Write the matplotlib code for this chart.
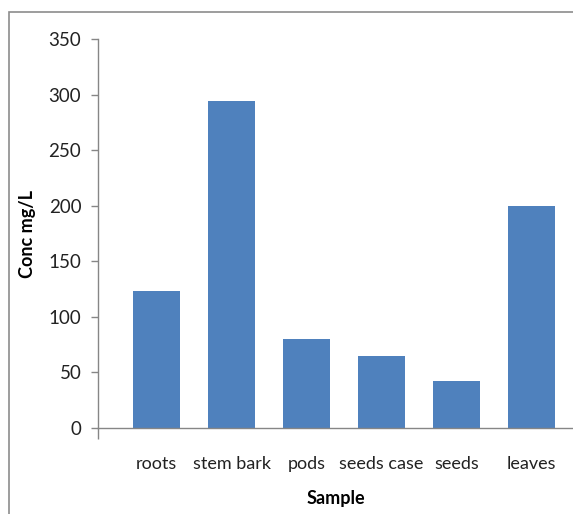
import numpy as np
import matplotlib.pyplot as plt
from matplotlib.patches import Rectangle

samples = ["roots", "stem bark", "pods", "seeds case", "seeds", "leaves"]
conc = [123, 294, 80, 65, 42, 200]
yticks = [0, 50, 100, 150, 200, 250, 300, 350]

bar_color = "#4F81BD"
axis_color = "#868686"
plt.rcParams["font.family"] = ["Lato", "DejaVu Sans"]

fig = plt.figure(figsize=(5.73, 5.14), dpi=100)
W, H = 573, 514
ax = fig.add_axes([98 / W, 1 - 428 / H, (573 - 98) / W, (428 - 39) / H])

x = np.arange(len(samples))
ax.bar(x, conc, width=0.62, color=bar_color, zorder=2)

ax.set_xlim(-0.78, 5.55)
ax.set_ylim(0, 350)
ax.set_yticks(yticks)
ax.set_yticklabels([str(v) for v in yticks], fontsize=13.5, color="#222222")
ax.tick_params(axis="y", direction="out", length=5, width=1, color=axis_color, pad=7)

ax.set_xticks(x)
ax.set_xticklabels(samples, fontsize=13, color="#222222")
ax.tick_params(axis="x", length=0, pad=20)
ax.set_xticks([-0.78], minor=True)
ax.tick_params(axis="x", which="minor", direction="out", length=8, width=1, color=axis_color)

for side in ["top", "right"]:
    ax.spines[side].set_visible(False)
for side in ["left", "bottom"]:
    ax.spines[side].set_color(axis_color)
    ax.spines[side].set_linewidth(1)

ax.set_ylabel("Conc mg/L", fontsize=13, fontweight="bold", labelpad=9)
ax.set_xlabel("Sample", fontsize=13, fontweight="bold", labelpad=13)

# outer chart-area frame
fig.patches.append(Rectangle((9 / W, -0.1), 1.2, 1 - 12 / H + 0.1,
                             transform=fig.transFigure, fill=False,
                             edgecolor="#8c8c8c", linewidth=1.2))

fig.savefig("out.png", dpi=100)
